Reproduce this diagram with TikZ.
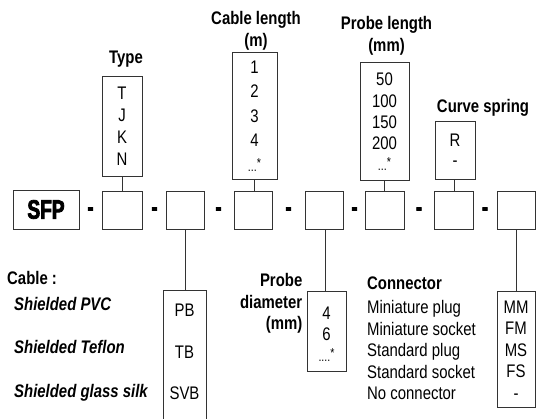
\documentclass[tikz,border=0pt]{standalone}
\usepackage{fontspec}
\setmainfont{Liberation Sans}[FakeStretch=0.82]
\newfontfamily\sfpfont{Liberation Sans}[FakeStretch=0.72,BoldFeatures={FakeBold=3}]
\newcommand\stardots[1]{{\fontsize{13}{13}\selectfont #1\raisebox{4pt}{*}}}
\begin{document}
\begin{tikzpicture}[x=1pt,y=-1pt,
  box/.style={draw=black!80,line width=0.8pt,inner sep=0pt,align=center},
  lbl/.style={font=\bfseries\fontsize{18.2}{22}\selectfont,inner sep=0pt,align=center},
  txt/.style={inner sep=0pt},
  dashmark/.style={font=\sfpfont\bfseries\fontsize{25}{25}\selectfont,inner sep=0pt},
  link/.style={draw=black!80,line width=0.8pt}]
\path[use as bounding box] (0,0) rectangle (536,419);

% main row
\node[box,minimum width=66,minimum height=39,font=\sfpfont\bfseries\fontsize{26.5}{26.5}\selectfont] (sfp) at (46,209.5) {SFP};
\node[box,minimum width=40,minimum height=38] (b1) at (122,210) {};
\node[box,minimum width=38,minimum height=38] (b2) at (185,210) {};
\node[box,minimum width=38,minimum height=38] (b3) at (253,210) {};
\node[box,minimum width=38,minimum height=38] (b4) at (324,210) {};
\node[box,minimum width=39,minimum height=38] (b5) at (384.5,210) {};
\node[box,minimum width=39,minimum height=38] (b6) at (453.5,210) {};
\node[box,minimum width=38,minimum height=38] (b7) at (516,210) {};

\foreach \i/\x in {1/90.5,2/154.5,3/218.5,4/288.5,5/354.5,6/419,7/485}
  \node[dashmark] (dash\i) at (\x,211.5) {-};

% upper option boxes
\node[lbl] (typelbl) at (126,59) {Type};
\node[box,minimum width=40,minimum height=100,font=\fontsize{18.2}{22}\selectfont] (type) at (122,126) {T\\J\\K\\N};

\node[lbl] (cablelenlbl) at (256,31) {Cable length\\(m)};
\node[box,minimum width=45,minimum height=127] (cablelen) at (254.5,115.5) {};
\node[txt,align=center,font=\fontsize{18.2}{24.5}\selectfont] (cablelentxt) at (254.5,116) {1\\2\\3\\4\\\stardots{...}};

\node[lbl] (probelenlbl) at (386.5,36) {Probe length\\(mm)};
\node[box,minimum width=49,minimum height=118] (probelen) at (384.5,121) {};
\node[txt,align=center,font=\fontsize{18.2}{21.2}\selectfont] (probelentxt) at (384.5,122) {50\\100\\150\\200\\\stardots{...}};

\node[lbl] (curvelbl) at (483,108) {Curve spring};
\node[box,minimum width=40,minimum height=58,font=\fontsize{18.2}{20}\selectfont] (curve) at (455,150) {R\\-};

% lower option boxes
\node[lbl,anchor=west] (cablelbl) at (7,278) {Cable :};
\node[txt,anchor=west,align=left,font=\bfseries\itshape\fontsize{18.2}{43.5}\selectfont] (cablenames) at (14,349) {Shielded PVC\\Shielded Teflon\\Shielded glass silk};
\node[box,minimum width=43,minimum height=150] (cablebox) at (184.5,365) {};
\node[txt,align=center,font=\fontsize{18.2}{41.5}\selectfont] (cabletxt) at (184.5,352) {PB\\TB\\SVB};

\node[lbl,anchor=east,align=right,font=\bfseries\fontsize{18.2}{21.5}\selectfont] (diamlbl) at (302.5,303.5) {Probe\\diameter\\(mm)};
\node[box,minimum width=39,minimum height=80] (diam) at (326.5,331) {};
\node[txt,align=center,font=\fontsize{18.2}{21}\selectfont] (diamtxt) at (326.5,334) {4\\6\\\stardots{....}};

\node[lbl,anchor=west] (connlbl) at (367,283) {Connector};
\node[txt,anchor=west,align=left,font=\fontsize{18.2}{21.5}\selectfont] (connnames) at (367,350) {Miniature plug\\Miniature socket\\Standard plug\\Standard socket\\No connector};
\node[box,minimum width=38,minimum height=116] (connbox) at (516,349) {};
\node[txt,align=center,font=\fontsize{18.2}{21.5}\selectfont] (conntxt) at (516,350) {MM\\FM\\MS\\FS\\-};

% links
\draw[link] (type.south) -- (type.south |- b1.north);
\draw[link] ([xshift=-0.5pt]cablelen.south) -- ([xshift=-0.5pt]cablelen.south |- b3.north);
\draw[link] (probelen.south) -- (probelen.south |- b5.north);
\draw[link] ([xshift=-1pt]curve.south) -- ([xshift=-1pt]curve.south |- b6.north);
\draw[link] (b2.south) -- (b2.south |- cablebox.north);
\draw[link] ([xshift=1pt]b4.south) -- ([xshift=1pt]b4.south |- diam.north);
\draw[link] (b7.south) -- (b7.south |- connbox.north);
\end{tikzpicture}
\end{document}
